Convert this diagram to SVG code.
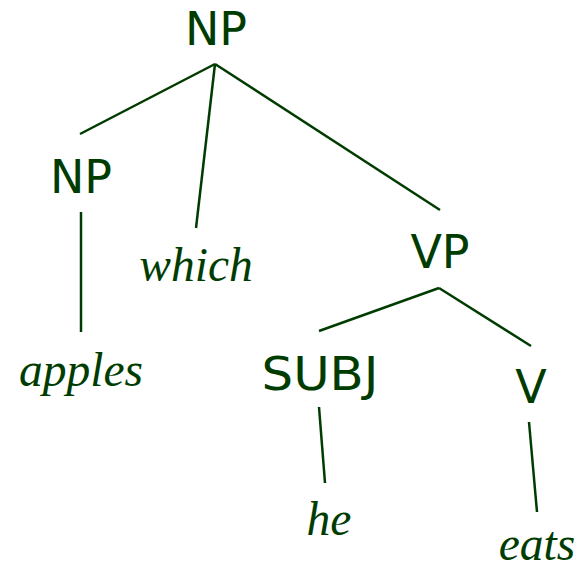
<svg xmlns="http://www.w3.org/2000/svg" width="583" height="570" viewBox="0 0 583 570">
  <style>
    .cat { font-family: "DejaVu Sans", sans-serif; font-size: 46px; fill: #003c00; text-anchor: middle; }
    .word { font-family: "Liberation Serif", serif; font-style: italic; font-size: 47.5px; fill: #003c00; text-anchor: middle; }
    .edge { stroke: #003c00; stroke-width: 2.5; fill: none; stroke-linecap: butt; }
  </style>
  <rect width="583" height="570" fill="#ffffff"/>
  <g id="connectors">
    <line class="edge" x1="215" y1="64" x2="80" y2="134"/>
    <line class="edge" x1="215" y1="64" x2="196" y2="228"/>
    <line class="edge" x1="215" y1="64" x2="440" y2="210"/>
    <line class="edge" x1="81" y1="212" x2="81" y2="332"/>
    <line class="edge" x1="439" y1="288" x2="319" y2="331"/>
    <line class="edge" x1="439" y1="288" x2="531" y2="346"/>
    <line class="edge" x1="319" y1="407" x2="325" y2="483"/>
    <line class="edge" x1="529" y1="422" x2="537" y2="512"/>
  </g>
  <g id="np-root"><text class="cat" x="216" y="45">NP</text></g>
  <g id="np-left"><text class="cat" x="81" y="193">NP</text></g>
  <g id="which"><text class="word" x="196" y="281">which</text></g>
  <g id="vp"><text class="cat" x="440" y="268">VP</text></g>
  <g id="apples"><text class="word" x="81" y="386">apples</text></g>
  <g id="subj"><text class="cat" x="320" y="390" textLength="117" lengthAdjust="spacingAndGlyphs">SUBJ</text></g>
  <g id="v"><text class="cat" x="531" y="403">V</text></g>
  <g id="he"><text class="word" x="329" y="535">he</text></g>
  <g id="eats"><text class="word" x="537" y="560">eats</text></g>
</svg>
